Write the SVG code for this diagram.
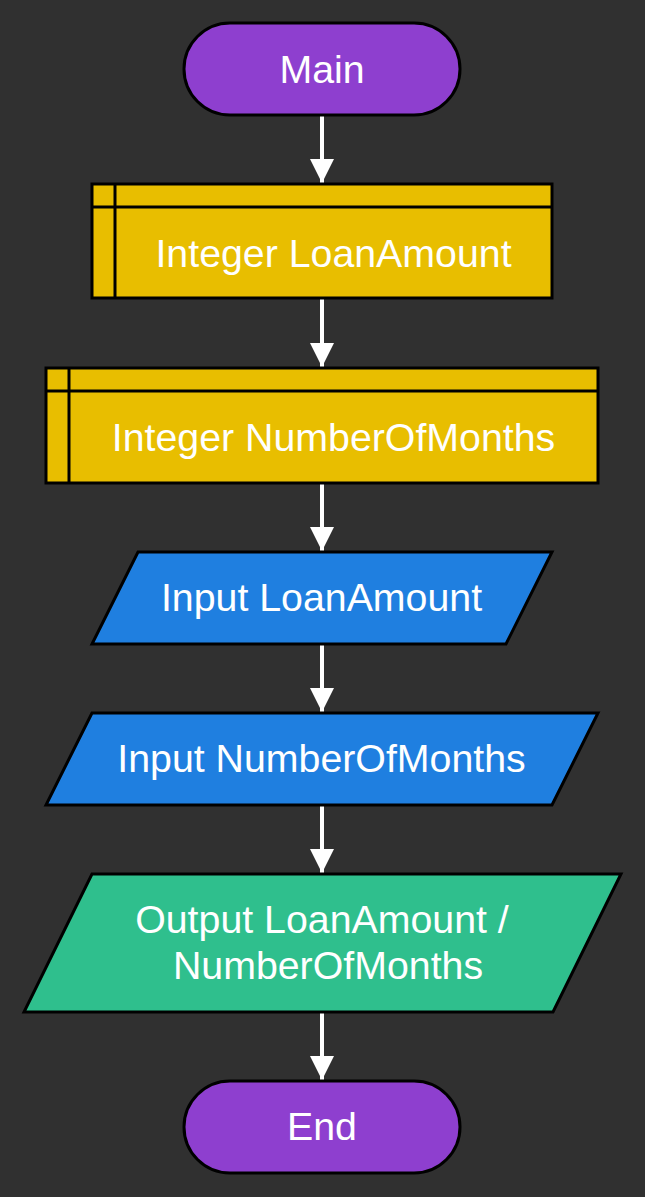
<svg xmlns="http://www.w3.org/2000/svg" width="645" height="1197" viewBox="0 0 645 1197">
<defs>
<style>
.n{stroke:#000;stroke-width:3}
.term{fill:#8E3FCF}
.decl{fill:#E8BE00}
.io{fill:#1F7FE0}
.out{fill:#2FBF8D}
.t{font-family:"Liberation Sans",Arial,sans-serif;font-size:39.3px;fill:#fff;text-anchor:middle}
.c{stroke:#fff;stroke-width:4;fill:none}
</style>
<marker id="ah" markerUnits="userSpaceOnUse" markerWidth="26" markerHeight="24" refX="24" refY="12" orient="auto">
<path d="M0,0 L24,12 L0,24 Z" fill="#fff"/>
</marker>
</defs>
<rect width="645" height="1197" fill="#303030"/>
<g id="connectors">
<line class="c" x1="322" y1="116" x2="322" y2="183" marker-end="url(#ah)"/>
<line class="c" x1="322" y1="299" x2="322" y2="367" marker-end="url(#ah)"/>
<line class="c" x1="322" y1="484" x2="322" y2="551" marker-end="url(#ah)"/>
<line class="c" x1="322" y1="645" x2="322" y2="712" marker-end="url(#ah)"/>
<line class="c" x1="322" y1="806" x2="322" y2="873" marker-end="url(#ah)"/>
<line class="c" x1="322" y1="1013" x2="322" y2="1080" marker-end="url(#ah)"/>
</g>
<g id="main">
<rect class="n term" x="184" y="23" width="276" height="92" rx="46" ry="46"/>
<text class="t" x="322" y="83">Main</text>
</g>
<g id="decl1">
<rect class="n decl" x="92" y="184" width="460" height="114"/>
<line class="n" x1="92" y1="207" x2="552" y2="207"/>
<line class="n" x1="115" y1="184" x2="115" y2="298"/>
<text class="t" x="333.5" y="267">Integer LoanAmount</text>
</g>
<g id="decl2">
<rect class="n decl" x="46" y="368" width="552" height="115"/>
<line class="n" x1="46" y1="391" x2="598" y2="391"/>
<line class="n" x1="69" y1="368" x2="69" y2="483"/>
<text class="t" x="333.5" y="451">Integer NumberOfMonths</text>
</g>
<g id="input1">
<polygon class="n io" points="138,552 552,552 506,644 92,644"/>
<text class="t" x="321.5" y="611">Input LoanAmount</text>
</g>
<g id="input2">
<polygon class="n io" points="92,713 598,713 552,805 46,805"/>
<text class="t" x="321.5" y="772">Input NumberOfMonths</text>
</g>
<g id="output">
<polygon class="n out" points="92,874 621,874 553,1012 24,1012"/>
<text class="t" x="322" y="933">Output LoanAmount /</text>
<text class="t" x="328" y="979">NumberOfMonths</text>
</g>
<g id="end">
<rect class="n term" x="184" y="1081" width="276" height="92" rx="46" ry="46"/>
<text class="t" x="322" y="1140">End</text>
</g>
</svg>
